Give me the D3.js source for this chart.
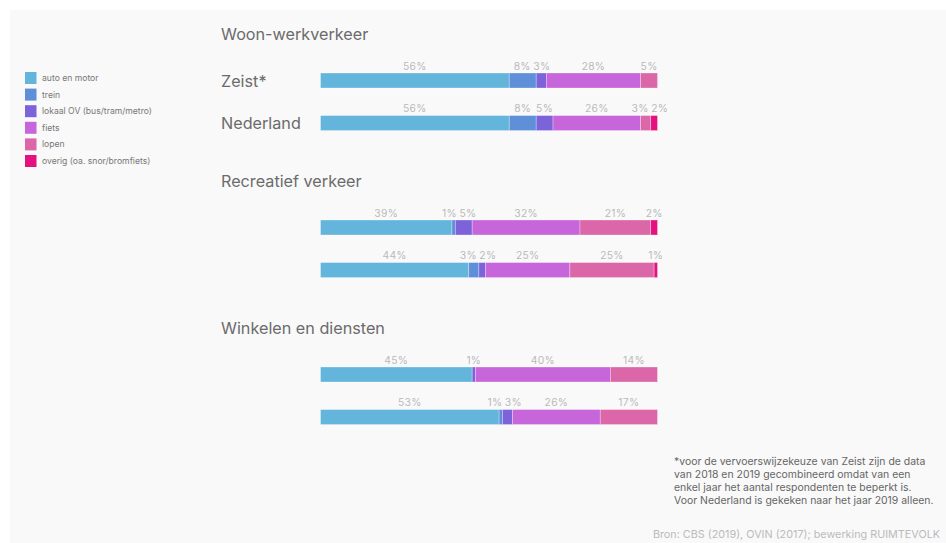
<!DOCTYPE html>
<html>
<head>
<meta charset="utf-8">
<script src="https://cdn.jsdelivr.net/npm/d3@7"></script>
<style>
  html, body { margin: 0; padding: 0; background: #ffffff; }
  svg { display: block; font-family: Inter, "Noto Sans", sans-serif; }
</style>
</head>
<body>
<svg id="chart" width="946" height="543"></svg>
<script>
// Modes of transport (stack order, left to right)
const modes = ["auto en motor", "trein", "lokaal OV (bus/tram/metro)", "fiets", "lopen", "overig (oa. snor/bromfiets)"];
const modeColors = ["#64b5dc", "#5f8fd9", "#7d63da", "#c766da", "#dc67a8", "#e4127e"];

// Trip purposes and the two areas compared in each
const purposes = ["Woon-werkverkeer", "Recreatief verkeer", "Winkelen en diensten"];
const areas = ["Zeist*", "Nederland"];

// Modal split in percent, per purpose, [Zeist, Nederland]
const woonWerk   = [[56, 8, 3, 28, 5, 0], [56, 8, 5, 26, 3, 2]];
const recreatief = [[39, 1, 5, 32, 21, 2], [44, 3, 2, 25, 25, 1]];
const winkelen   = [[45, 0, 1, 40, 14, 0], [53, 1, 3, 26, 17, 0]];
const shares = [woonWerk, recreatief, winkelen];

const footnote = [
  "*voor de vervoerswijzekeuze van Zeist zijn de data",
  "van 2018 en 2019 gecombineerd omdat van een",
  "enkel jaar het aantal respondenten te beperkt is.",
  "Voor Nederland is gekeken naar het jaar 2019 alleen."
];
const source = "Bron: CBS (2019), OVIN (2017); bewerking RUIMTEVOLK";

const svg = d3.select("#chart");

// light panel behind everything
svg.append("rect").attr("x", 10).attr("y", 10).attr("width", 936).attr("height", 533).attr("fill", "#f9f9f9");

const x = d3.scaleLinear().domain([0, 100]).range([320.5, 657.5]);
const color = d3.scaleOrdinal().domain(modes).range(modeColors);

// vertical layout: one band per purpose, two rows inside
const yGroup = d3.scaleBand().domain(purposes).range([73, 514]).paddingInner(0).paddingOuter(0);
const yRow = d3.scaleBand().domain(areas).range([0, 57.5]).paddingInner(0.6486).paddingOuter(0);
const barH = 15;

// nudge neighbouring value labels apart so that they do not collide
function spreadLabels(sel, gap) {
  const items = sel.nodes().map(n => {
    const w = n.getComputedTextLength();
    return { node: n, cx: +n.getAttribute("x"), w };
  });
  for (let iter = 0; iter < 30; iter++) {
    let moved = false;
    for (let i = 1; i < items.length; i++) {
      const a = items[i - 1], b = items[i];
      const overlap = (a.cx + a.w / 2 + gap) - (b.cx - b.w / 2);
      if (overlap > 0.01) {
        a.cx -= overlap / 2;
        b.cx += overlap / 2;
        moved = true;
      }
    }
    if (!moved) break;
  }
  items.forEach(d => d.node.setAttribute("x", d.cx));
}

purposes.forEach((p, gi) => {
  const g = svg.append("g").attr("transform", `translate(0,${yGroup(p)})`);

  g.append("text")
    .attr("x", 221).attr("y", -33)
    .attr("fill", "#6b6b6b").attr("font-size", 16.2)
    .text(p);

  areas.forEach((a, ri) => {
    const vals = shares[gi][ri];
    const stack = d3.stack().keys(d3.range(modes.length))([vals])
      .map((s, i) => ({ mode: modes[i], v: vals[i], x0: s[0][0], x1: s[0][1] }));

    const row = g.append("g").attr("transform", `translate(0,${yRow(a)})`);

    if (gi === 0) {
      row.append("text")
        .attr("x", 221).attr("y", barH - 1.5)
        .attr("fill", "#6b6b6b").attr("font-size", 16.2)
        .text(a);
    }

    row.selectAll("rect").data(stack.filter(d => d.v > 0)).join("rect")
      .attr("x", d => x(d.x0)).attr("width", d => x(d.x1) - x(d.x0))
      .attr("y", 0).attr("height", barH)
      .attr("fill", d => color(d.mode))
      .attr("stroke", "#ffffff").attr("stroke-opacity", 0.5).attr("stroke-width", 0.6);

    const pct = row.selectAll("text.pct").data(stack.filter(d => d.v > 0)).join("text")
      .attr("class", "pct")
      .attr("x", d => (x(d.x0) + x(d.x1)) / 2).attr("y", -3.2)
      .attr("text-anchor", "middle")
      .attr("fill", "#b9b9b9").attr("font-size", 10.3).attr("letter-spacing", 0.3)
      .text(d => d.v + "%");
    spreadLabels(pct, 2.5);
  });
});

// legend
const legend = svg.append("g").attr("transform", "translate(25,72)");
const li = legend.selectAll("g").data(modes).join("g")
  .attr("transform", (d, i) => `translate(0,${i * 16.6})`);
li.append("rect").attr("width", 11.5).attr("height", 12).attr("fill", d => color(d));
li.append("text").attr("x", 17).attr("y", 9).attr("font-size", 8.6).attr("fill", "#777").text(d => d);

// footnote and source
svg.append("g").selectAll("text").data(footnote).join("text")
  .attr("x", 674).attr("y", (d, i) => 465 + i * 13)
  .attr("font-size", 10.45).attr("fill", "#666")
  .text(d => d);

svg.append("text")
  .attr("x", 940).attr("y", 538).attr("text-anchor", "end")
  .attr("font-size", 10.8).attr("fill", "#bbb")
  .text(source);
</script>
</body>
</html>
